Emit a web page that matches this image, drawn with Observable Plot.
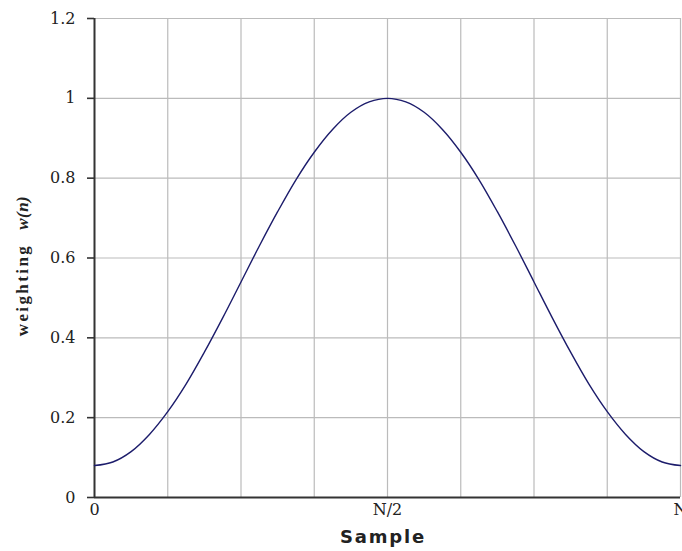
<!DOCTYPE html>
<html><head><meta charset="utf-8">
<script src="https://cdn.jsdelivr.net/npm/d3@7"></script>
<script src="https://cdn.jsdelivr.net/npm/@observablehq/plot@0.6"></script>
<style>
html,body{margin:0;padding:0;background:#fff;}
</style>
</head><body><div id="chart"></div>
<script>
// sample index (N = 32) and weighting
const samples = [0,1,2,3,4,5,6,7,8,9,10,11,12,13,14,15,16,17,18,19,20,21,22,23,24,25,26,27,28,29,30,31,32];
const weights = [0.08,0.089,0.115,0.158,0.215,0.284,0.364,0.45,0.54,0.63,0.716,0.796,0.865,0.922,0.965,0.991,1.0,
                 0.991,0.965,0.922,0.865,0.796,0.716,0.63,0.54,0.45,0.364,0.284,0.215,0.158,0.115,0.089,0.08];
const xTicks = [0, 16, 32];
const xTickLabels = ["0", "N/2", "N"];
const xGrid = [4, 8, 12, 16, 20, 24, 28, 32];
const yTicks = [0, 0.2, 0.4, 0.6, 0.8, 1, 1.2];
const yTickLabels = ["0", "0.2", "0.4", "0.6", "0.8", "1", "1.2"];

const data = samples.map((s, i) => ({x: s, y: weights[i]}));

const chart = Plot.plot({
  width: 682,
  height: 551,
  marginLeft: 94,
  marginRight: 2,
  marginTop: 18,
  marginBottom: 54,
  style: {fontFamily: "'DejaVu Serif', serif", fontSize: "16px", color: "#222", background: "#fff", overflow: "visible"},
  x: {domain: [0, 32]},
  y: {domain: [0, 1.2]},
  marks: [
    Plot.gridX(xGrid, {stroke: "#bbb", strokeOpacity: 1, strokeWidth: 1.2}),
    Plot.gridY(yTicks.filter(d => d > 0), {stroke: "#bbb", strokeOpacity: 1, strokeWidth: 1.2}),
    Plot.axisY(yTicks, {tickSize: 7, tickPadding: 12, tickFormat: (d, i) => yTickLabels[i], label: null, stroke: "#333", strokeWidth: 1.6, fill: "#222"}),
    Plot.axisX(xTicks, {tickSize: 0, tickPadding: 6, tickFormat: (d, i) => xTickLabels[i], label: null, fill: "#222"}),
    Plot.ruleX([0], {stroke: "#333", strokeWidth: 2}),
    Plot.ruleY([0], {stroke: "#333", strokeWidth: 2}),
    Plot.line(data, {x: "x", y: "y", stroke: "#1c1c6b", strokeWidth: 1.4, curve: "catmull-rom"})
  ]
});
document.getElementById("chart").appendChild(chart);

const svg = d3.select(chart);
svg.append("text")
  .attr("x", 383).attr("y", 543)
  .attr("text-anchor", "middle")
  .style("font-family", "'DejaVu Sans', Verdana, sans-serif")
  .style("font-weight", "bold").style("font-size", "18px").style("letter-spacing", "1.8px").style("fill", "#222")
  .text("Sample");
const yl = svg.append("text")
  .attr("transform", "translate(28,266) rotate(-90)")
  .attr("text-anchor", "middle")
  .style("font-family", "'Liberation Serif', 'Times New Roman', serif")
  .style("font-weight", "bold").style("font-size", "17px").style("fill", "#222");
yl.append("tspan").style("letter-spacing", "2.4px").text("weighting");
yl.append("tspan").attr("dx", 14).style("font-style", "italic").style("letter-spacing", "0.5px").text("w(n)");
</script>
</body></html>
